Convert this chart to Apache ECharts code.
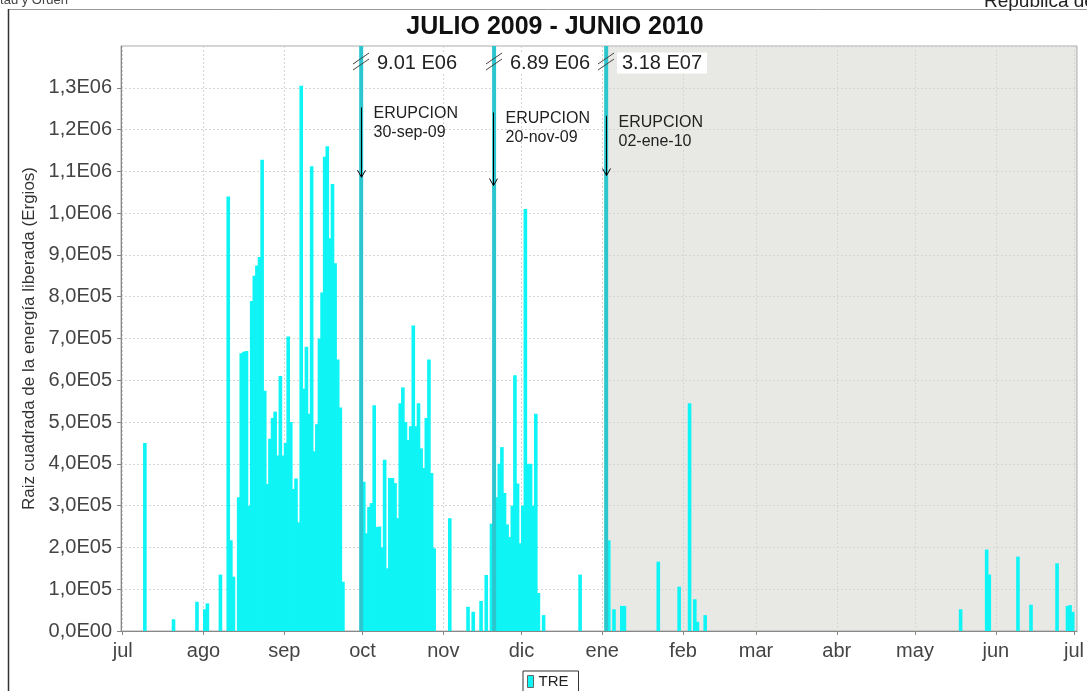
<!DOCTYPE html>
<html>
<head>
<meta charset="utf-8">
<title>JULIO 2009 - JUNIO 2010</title>
<script src="https://cdn.jsdelivr.net/npm/echarts@6/dist/echarts.min.js"></script>
<style>
  html, body { margin: 0; padding: 0; background: #ffffff; }
  #chart { width: 1087px; height: 691px; }
</style>
</head>
<body>
<div id="chart"></div>
<script>
// Month boundaries used for ticks, grid lines and labels
const monthTicks = ['2009-07-01', '2009-08-01', '2009-09-01', '2009-10-01', '2009-11-01', '2009-12-01',
                    '2010-01-01', '2010-02-01', '2010-03-01', '2010-04-01', '2010-05-01', '2010-06-01', '2010-07-01'];
const monthLabels = ['jul', 'ago', 'sep', 'oct', 'nov', 'dic', 'ene', 'feb', 'mar', 'abr', 'may', 'jun', 'jul'];

// Daily square root of released energy (ergs)
const dayDates = [
  '2009-07-09', '2009-07-20', '2009-07-29',
  '2009-08-01', '2009-08-02', '2009-08-07', '2009-08-10', '2009-08-11', '2009-08-12', '2009-08-14',
  '2009-08-15', '2009-08-16', '2009-08-17', '2009-08-18', '2009-08-19', '2009-08-20', '2009-08-21',
  '2009-08-22', '2009-08-23', '2009-08-24', '2009-08-25', '2009-08-26', '2009-08-27', '2009-08-28',
  '2009-08-29', '2009-08-30', '2009-08-31',
  '2009-09-01', '2009-09-02', '2009-09-03', '2009-09-04', '2009-09-05', '2009-09-06', '2009-09-07',
  '2009-09-08', '2009-09-09', '2009-09-10', '2009-09-11', '2009-09-12', '2009-09-13', '2009-09-14',
  '2009-09-15', '2009-09-16', '2009-09-17', '2009-09-18', '2009-09-19', '2009-09-20', '2009-09-21',
  '2009-09-22', '2009-09-23',
  '2009-10-01', '2009-10-02', '2009-10-03', '2009-10-04', '2009-10-05', '2009-10-06', '2009-10-07',
  '2009-10-08', '2009-10-09', '2009-10-10', '2009-10-11', '2009-10-12', '2009-10-13', '2009-10-14',
  '2009-10-15', '2009-10-16', '2009-10-17', '2009-10-18', '2009-10-19', '2009-10-20', '2009-10-21',
  '2009-10-22', '2009-10-23', '2009-10-24', '2009-10-25', '2009-10-26', '2009-10-27', '2009-10-28',
  '2009-11-03', '2009-11-10', '2009-11-12', '2009-11-15', '2009-11-17', '2009-11-19', '2009-11-21',
  '2009-11-22', '2009-11-23', '2009-11-24', '2009-11-25', '2009-11-26', '2009-11-27', '2009-11-28',
  '2009-11-29', '2009-11-30',
  '2009-12-01', '2009-12-02', '2009-12-03', '2009-12-04', '2009-12-05', '2009-12-06', '2009-12-07',
  '2009-12-09', '2009-12-23',
  '2010-01-03', '2010-01-05', '2010-01-08', '2010-01-09', '2010-01-22', '2010-01-30',
  '2010-02-03', '2010-02-05', '2010-02-06', '2010-02-09',
  '2010-05-18', '2010-05-28', '2010-05-29',
  '2010-06-09', '2010-06-14', '2010-06-24', '2010-06-28', '2010-06-29', '2010-06-30'
];
const dayValues = [
  450000, 28000, 70000,
  52000, 66000, 135000, 1040000, 217000, 130000, 320000,
  665000, 668000, 670000, 300000, 790000, 850000, 875000,
  895000, 1128000, 575000, 352000, 460000, 510000, 525000,
  420000, 610000, 420000,
  450000, 705000, 500000, 340000, 365000, 260000, 1305000,
  580000, 680000, 520000, 1112000, 430000, 495000, 700000,
  810000, 1135000, 1160000, 940000, 1070000, 880000, 650000,
  535000, 118000,
  357000, 234000, 297000, 306000, 540000, 249000, 250000,
  200000, 410000, 150000, 366000, 366000, 354000, 270000,
  545000, 583000, 500000, 457000, 490000, 731000, 490000,
  545000, 437000, 390000, 510000, 650000, 378000, 198000,
  270000, 58000, 46000, 72000, 134000, 257000, 320000,
  400000, 440000, 330000, 255000, 225000, 300000, 612000,
  353000, 210000,
  300000, 1010000, 400000, 400000, 300000, 520000, 91000,
  38000, 135000,
  217000, 52000, 60000, 60000, 166000, 106000,
  545000, 76000, 22000, 38000,
  52000, 195000, 135000,
  178000, 63000, 162000, 60000, 62000, 46000
];

// Eruption days: values run far above the axis and are cut at the top
const eruptionDates = ['2009-09-30', '2009-11-20', '2010-01-02'];
const eruptionValues = [9.01e6, 6.89e6, 3.18e7];
const eruptionNotes = ['ERUPCION\n30-sep-09', 'ERUPCION\n20-nov-09', 'ERUPCION\n02-ene-10'];
// Pointer annotations: arrow tail and tip levels on the value axis
const arrowTail = [1.253e6, 1.241e6, 1.233e6];
const arrowTip = [1.086e6, 1.066e6, 1.090e6];
const breakLevel = 1.36e6;
// Shaded period
const shadedFrom = '2010-01-03';

const DAY = 864e5;
function toTime(s, hours) {
  const p = s.split('-').map(Number);
  return new Date(p[0], p[1] - 1, p[2], hours || 0).getTime();
}
function sci(v, digits, sep, gap) {
  if (v === 0) return (0).toFixed(digits).replace('.', sep) + gap + 'E00';
  let e = Math.floor(Math.log10(v) + 1e-12);
  let m = (v / Math.pow(10, e)).toFixed(digits);
  return m.replace('.', sep) + gap + 'E' + String(e).padStart(2, '0');
}

const monthTimes = monthTicks.map(s => toTime(s));
const axisMin = monthTimes[0] - 0.65 * DAY;
const axisMax = monthTimes[monthTimes.length - 1] + 1.15 * DAY;

const BAR = '#0ff4f4';
const BAR_ERUPTION = '#2cc6cf';
const FONT = '"Liberation Sans", Arial, sans-serif';

const dayBars = dayDates.map((d, i) => [toTime(d, 12), dayValues[i]]);
const eruptionBars = eruptionDates.map((d, i) => [toTime(d, 12), eruptionValues[i]]);
const noteData = eruptionDates.map((d, i) => [toTime(d, 6), arrowTail[i], arrowTip[i], breakLevel, eruptionValues[i], toTime(d, 12)]);

// One bar per day: spans the whole day on the time scale, cut at the top of the plot
function dailyBar(extra) {
  return (params, api) => {
    const t = api.value(0);
    const a = api.coord([t - DAY / 2, api.value(1)]);
    const b = api.coord([t + DAY / 2, 0]);
    const cs = params.coordSys;
    const top = Math.max(a[1], cs.y);
    return {
      type: 'rect',
      shape: { x: a[0] - extra / 2, y: top, width: b[0] - a[0] + extra, height: b[1] - top },
      style: { fill: api.visual('color') }
    };
  };
}

const chart = echarts.init(document.getElementById('chart'), null, { renderer: 'canvas' });

chart.setOption({
  animation: false,
  backgroundColor: '#ffffff',
  title: {
    text: 'JULIO 2009 - JUNIO 2010',
    left: 550,
    top: 10,
    textAlign: 'center',
    textStyle: { fontSize: 25, fontWeight: 'bold', color: '#111', fontFamily: FONT }
  },
  legend: {
    data: ['TRE'],
    left: 523,
    top: 671,
    icon: 'rect',
    itemWidth: 6,
    itemHeight: 12,
    itemGap: 4,
    padding: [3, 10, 3, 4],
    borderColor: '#333',
    borderWidth: 1,
    itemStyle: { borderColor: '#666', borderWidth: 1 },
    textStyle: { fontSize: 15, color: '#222', fontFamily: FONT }
  },
  grid: {
    left: 121, right: 5, top: 46, bottom: 60,
    show: true, borderColor: '#aaa', borderWidth: 1,
    containLabel: false
  },
  xAxis: {
    type: 'value',
    min: axisMin,
    max: axisMax,
    axisLine: { lineStyle: { color: '#888' } },
    axisTick: { customValues: monthTimes, length: 4, lineStyle: { color: '#888' } },
    axisLabel: {
      customValues: monthTimes,
      formatter: v => monthLabels[monthTimes.indexOf(v)] || '',
      fontSize: 20, color: '#444', fontFamily: FONT, margin: 10
    },
    splitLine: { show: true, lineStyle: { color: '#d6d6d6', type: [2, 2] } }
  },
  yAxis: {
    type: 'value',
    min: 0,
    max: 1.4e6,
    interval: 1e5,
    name: 'Raiz cuadrada de la energía liberada (Ergios)',
    nameLocation: 'middle',
    nameGap: 73,
    nameTextStyle: { fontSize: 17, color: '#333', fontFamily: FONT },
    axisLine: { show: true, lineStyle: { color: '#888' } },
    axisTick: { show: true, length: 4, lineStyle: { color: '#888' } },
    axisLabel: {
      formatter: v => sci(v, 1, ',', ''),
      showMaxLabel: false,
      fontSize: 20, color: '#444', fontFamily: FONT, margin: 9
    },
    splitLine: { show: true, lineStyle: { color: '#d6d6d6', type: [2, 2] } }
  },
  series: [
    {
      // shaded period behind the bars
      type: 'custom',
      name: 'periodo',
      silent: true,
      z: -1,
      data: [[toTime(shadedFrom), axisMax]],
      encode: { x: [0, 1] },
      renderItem: (params, api) => {
        const a = api.coord([api.value(0), 0]);
        const cs = params.coordSys;
        return {
          type: 'rect',
          shape: { x: a[0], y: cs.y, width: cs.x + cs.width - a[0], height: cs.height },
          style: { fill: '#e8e9e5' }
        };
      }
    },
    {
      type: 'custom',
      name: 'TRE',
      itemStyle: { color: BAR },
      data: dayBars,
      encode: { x: 0, y: 1 },
      renderItem: dailyBar(1.0),
      z: 2
    },
    {
      type: 'custom',
      name: 'TRE',
      itemStyle: { color: BAR_ERUPTION },
      data: eruptionBars,
      encode: { x: 0, y: 1 },
      renderItem: dailyBar(1.4),
      z: 3
    },
    {
      // eruption pointers, axis breaks and off-scale values
      type: 'custom',
      name: 'erupciones',
      silent: true,
      z: 5,
      data: noteData,
      encode: { x: 0, y: 1 },
      renderItem: (params, api) => {
        const i = params.dataIndex;
        const tail = api.coord([api.value(0), api.value(1)]);
        const tip = api.coord([api.value(0), api.value(2)]);
        const brk = api.coord([api.value(5), api.value(3)]);
        const x = Math.round(tail[0]) + 0.5;
        const bx = Math.round(brk[0]);
        const by = Math.round(brk[1]);
        return {
          type: 'group',
          children: [
            { type: 'line', shape: { x1: x, y1: tail[1], x2: x, y2: tip[1] }, style: { stroke: '#000', lineWidth: 1 } },
            { type: 'polyline', shape: { points: [[x - 4, tip[1] - 7], [x, tip[1]], [x + 4, tip[1] - 7]] },
              style: { stroke: '#000', fill: null, lineWidth: 1 } },
            { type: 'text', x: x + 12, y: tail[1] - 3,
              style: { text: eruptionNotes[i], fill: '#222', fontSize: 16, fontFamily: FONT,
                       align: 'left', verticalAlign: 'top', lineHeight: 19 } },
            { type: 'line', shape: { x1: bx - 8, y1: by + 1, x2: bx + 8, y2: by - 10 }, style: { stroke: '#444', lineWidth: 1 } },
            { type: 'line', shape: { x1: bx - 8, y1: by + 7, x2: bx + 8, y2: by - 4 }, style: { stroke: '#444', lineWidth: 1 } },
            { type: 'text', x: bx + 11, y: by,
              style: { text: sci(api.value(4), 2, '.', ' '), fill: '#222', fontSize: 20, fontFamily: FONT,
                       align: 'left', verticalAlign: 'middle', backgroundColor: '#ffffff', padding: [1, 5, 0, 5] } }
          ]
        };
      }
    }
  ],
  graphic: [
    { type: 'line', shape: { x1: 8, y1: 9.5, x2: 1087, y2: 9.5 }, style: { stroke: '#999', lineWidth: 1 } },
    { type: 'line', shape: { x1: 8.5, y1: 9, x2: 8.5, y2: 691 }, style: { stroke: '#333', lineWidth: 1.5 } },
    { type: 'text', x: 68, y: 7,
      style: { text: 'Libertad y Orden', fill: '#444', fontSize: 13, fontFamily: FONT, align: 'right', verticalAlign: 'bottom' } },
    { type: 'text', x: 984, y: 11,
      style: { text: 'República de Colombia', fill: '#222', fontSize: 19, fontFamily: FONT, align: 'left', verticalAlign: 'bottom' } }
  ]
});
</script>
</body>
</html>
